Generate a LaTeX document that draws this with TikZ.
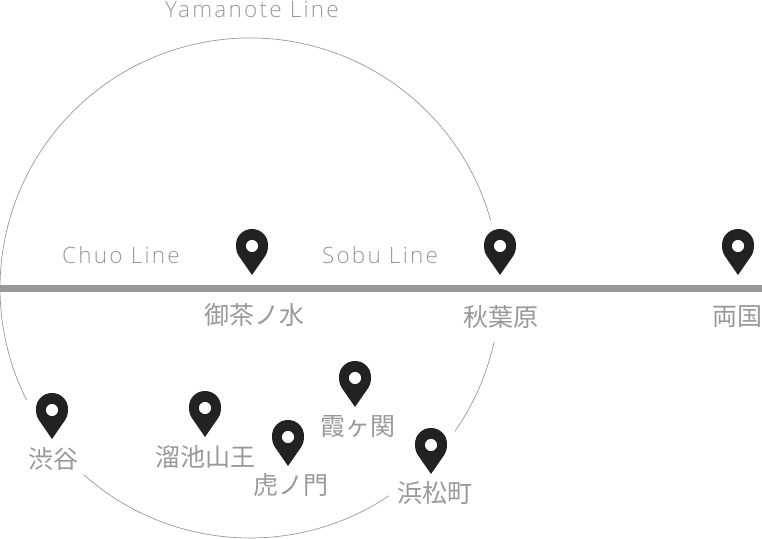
\documentclass[tikz,border=0pt]{standalone}
\usepackage{fontspec}
\setmainfont{Open Sans}
\newfontfamily\linefont[LetterSpace=10]{Open Sans Light}
\newfontfamily\cjk{Noto Sans CJK JP}
\usetikzlibrary{arrows, arrows.meta}
\definecolor{linegray}{HTML}{999999}
\definecolor{pindark}{HTML}{222222}
\tikzset{
    station/.style={text=linegray, font=\fontsize{25}{27}\selectfont\cjk, inner sep=0pt},
    linename/.style={text=linegray, font=\fontsize{22.5}{25}\selectfont\linefont, inner sep=0pt},
    loopline/.style={draw=linegray, line width=0.7pt},
    mainline/.style={draw=linegray, line width=7pt},
    pin/.pic={
        \fill[pindark, even odd rule] (0,0) -- (-13.5,19.5) .. controls (-15.5,23) and (-16,26) .. (-16,30)
            .. controls (-16,39) and (-9,46) .. (0,46) .. controls (9,46) and (16,39) .. (16,30)
            .. controls (16,26) and (15.5,23) .. (13.5,19.5) -- cycle
            (6.2,29) arc[start angle=0, end angle=360, radius=6.2];
    }
}

\begin{document}
\begin{tikzpicture}[x=1pt, y=1pt]
\useasboundingbox (0,0) rectangle (762,538);

\coordinate (Center) at (250,250);
\coordinate (West) at (0,249.5);
\coordinate (East) at (762,249.5);

\draw [loopline] (Center) ++(15.7:250) arc[start angle=15.7, end angle=206.6, radius=250];
\draw [loopline] (Center) ++(228.3:250) arc[start angle=228.3, end angle=303.8, radius=250];
\draw [loopline] (Center) ++(-35:250) arc[start angle=-35, end angle=-12.4, radius=250];

\draw [mainline] (West) -- (East);

\node [linename] (Yamanote) at (252,529) {Yamanote Line};
\node [linename] (Chuo) at (121,283) {Chuo Line};
\node [linename] (Sobu) at (380,283) {Sobu Line};

\pic at (252,263) {pin};
\pic at (500,263) {pin};
\pic at (738,263) {pin};
\pic at (52,99) {pin};
\pic at (205,101) {pin};
\pic at (288,72) {pin};
\pic at (355,131) {pin};
\pic at (431,64) {pin};

\node [station] (Ochanomizu) at (254,223) {御茶ノ水};
\node [station] (Akihabara) at (501,221) {秋葉原};
\node [station] (Ryogoku) at (737,221) {両国};
\node [station] (Shibuya) at (53,79) {渋谷};
\node [station] (Tameike) at (205,81) {溜池山王};
\node [station] (Toranomon) at (291,53) {虎ノ門};
\node [station] (Kasumigaseki) at (358,111.5) {霞ヶ関};
\node [station] (Hamamatsucho) at (434.5,44.5) {浜松町};

\end{tikzpicture}
\end{document}
